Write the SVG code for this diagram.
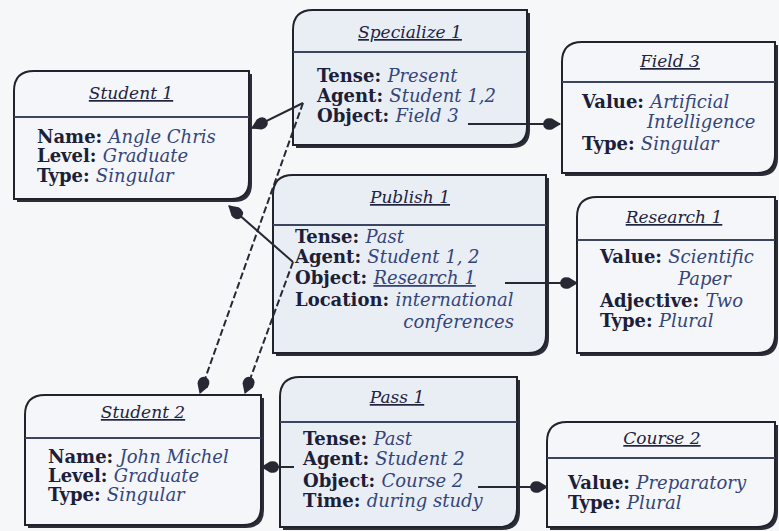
<svg xmlns="http://www.w3.org/2000/svg" width="779" height="531" viewBox="0 0 779 531">
  <style>
    .shadow { fill: #2b2d38; }
    .box { stroke: #20222c; stroke-width: 2; }
    .plain { fill: #f4f6f9; }
    .tint { fill: #e9eef5; }
    .rule { stroke: #3c4560; stroke-width: 2; }
    text { font-family: "DejaVu Serif", "Liberation Serif", serif; font-size: 18px; }
    .title { font-size: 17px; font-style: italic; fill: #1e2340; text-decoration: underline; text-anchor: middle; }
    .lbl { font-weight: bold; fill: #1b2038; }
    .val { font-style: italic; fill: #34457a; }
    .conn { stroke: #262834; stroke-width: 2; fill: none; }
    .dash { stroke-dasharray: 7 3; }
  </style>
  <defs>
    <marker id="head" viewBox="0 0 18 14" refX="17" refY="7" markerWidth="18" markerHeight="14" markerUnits="userSpaceOnUse" orient="auto">
      <path d="M0,7 Q1,0 9,1.5 L18,7 L9,12.5 Q1,14 0,7 Z" fill="#262834"/>
    </marker>
  </defs>

  <rect width="779" height="531" fill="#f6f7f9"/>

  <!-- Student 1 -->
  <g id="student1">
    <path class="shadow" d="M37,74 H252 V184 Q252,202 234,202 H17 V94 Q17,74 37,74 Z"/>
    <path class="box plain" d="M34,71 H249 V181 Q249,199 231,199 H14 V91 Q14,71 34,71 Z"/>
    <line class="rule" x1="14" y1="117" x2="249" y2="117"/>
    <text class="title" x="131" y="99">Student 1</text>
    <text x="37" y="143"><tspan class="lbl">Name: </tspan><tspan class="val">Angle Chris</tspan></text>
    <text x="37" y="162"><tspan class="lbl">Level: </tspan><tspan class="val">Graduate</tspan></text>
    <text x="37" y="182"><tspan class="lbl">Type: </tspan><tspan class="val">Singular</tspan></text>
  </g>

  <!-- Specialize 1 -->
  <g id="specialize1">
    <path class="shadow" d="M316,13 H530 V130 Q530,148 512,148 H296 V33 Q296,13 316,13 Z"/>
    <path class="box tint" d="M313,10 H527 V127 Q527,145 509,145 H293 V30 Q293,10 313,10 Z"/>
    <line class="rule" x1="293" y1="52" x2="527" y2="52"/>
    <text class="title" x="410" y="38">Specialize 1</text>
    <text x="317" y="82"><tspan class="lbl">Tense: </tspan><tspan class="val">Present</tspan></text>
    <text x="317" y="102"><tspan class="lbl">Agent: </tspan><tspan class="val">Student 1,2</tspan></text>
    <text x="317" y="122"><tspan class="lbl">Object: </tspan><tspan class="val">Field 3</tspan></text>
  </g>

  <!-- Field 3 -->
  <g id="field3">
    <path class="shadow" d="M585,45 H778 V158 Q778,176 760,176 H565 V65 Q565,45 585,45 Z"/>
    <path class="box plain" d="M582,42 H775 V155 Q775,173 757,173 H562 V62 Q562,42 582,42 Z"/>
    <line class="rule" x1="562" y1="82" x2="775" y2="82"/>
    <text class="title" x="670" y="67">Field 3</text>
    <text x="582" y="108"><tspan class="lbl">Value: </tspan><tspan class="val">Artificial</tspan></text>
    <text class="val" x="647" y="128">Intelligence</text>
    <text x="582" y="150"><tspan class="lbl">Type: </tspan><tspan class="val">Singular</tspan></text>
  </g>

  <!-- Publish 1 -->
  <g id="publish1">
    <path class="shadow" d="M296,178 H549 V338 Q549,356 531,356 H276 V198 Q276,178 296,178 Z"/>
    <path class="box tint" d="M293,175 H546 V335 Q546,353 528,353 H273 V195 Q273,175 293,175 Z"/>
    <line class="rule" x1="273" y1="225" x2="546" y2="225"/>
    <text class="title" x="410" y="203">Publish 1</text>
    <text x="295" y="243"><tspan class="lbl">Tense: </tspan><tspan class="val">Past</tspan></text>
    <text x="295" y="263"><tspan class="lbl">Agent: </tspan><tspan class="val">Student 1, 2</tspan></text>
    <text x="295" y="284"><tspan class="lbl">Object: </tspan><tspan class="val" text-decoration="underline">Research 1</tspan></text>
    <text x="295" y="306"><tspan class="lbl">Location: </tspan><tspan class="val">international</tspan></text>
    <text class="val" x="514" y="328" text-anchor="end">conferences</text>
  </g>

  <!-- Research 1 -->
  <g id="research1">
    <path class="shadow" d="M600,200 H778 V338 Q778,356 760,356 H580 V220 Q580,200 600,200 Z"/>
    <path class="box plain" d="M597,197 H775 V335 Q775,353 757,353 H577 V217 Q577,197 597,197 Z"/>
    <line class="rule" x1="577" y1="240" x2="775" y2="240"/>
    <text class="title" x="674" y="223">Research 1</text>
    <text x="600" y="263"><tspan class="lbl">Value: </tspan><tspan class="val">Scientific</tspan></text>
    <text class="val" x="678" y="285">Paper</text>
    <text x="600" y="307"><tspan class="lbl">Adjective: </tspan><tspan class="val">Two</tspan></text>
    <text x="600" y="327"><tspan class="lbl">Type: </tspan><tspan class="val">Plural</tspan></text>
  </g>

  <!-- Student 2 -->
  <g id="student2">
    <path class="shadow" d="M48,398 H264 V510 Q264,528 246,528 H28 V418 Q28,398 48,398 Z"/>
    <path class="box plain" d="M45,395 H261 V507 Q261,525 243,525 H25 V415 Q25,395 45,395 Z"/>
    <line class="rule" x1="25" y1="438" x2="261" y2="438"/>
    <text class="title" x="143" y="418">Student 2</text>
    <text x="48" y="463"><tspan class="lbl">Name: </tspan><tspan class="val">John Michel</tspan></text>
    <text x="48" y="482"><tspan class="lbl">Level: </tspan><tspan class="val">Graduate</tspan></text>
    <text x="48" y="501"><tspan class="lbl">Type: </tspan><tspan class="val">Singular</tspan></text>
  </g>

  <!-- Pass 1 -->
  <g id="pass1">
    <path class="shadow" d="M303,380 H520 V512 Q520,530 502,530 H283 V400 Q283,380 303,380 Z"/>
    <path class="box tint" d="M300,377 H517 V509 Q517,527 499,527 H280 V397 Q280,377 300,377 Z"/>
    <line class="rule" x1="280" y1="422" x2="517" y2="422"/>
    <text class="title" x="397" y="403">Pass 1</text>
    <text x="303" y="445"><tspan class="lbl">Tense: </tspan><tspan class="val">Past</tspan></text>
    <text x="303" y="465"><tspan class="lbl">Agent: </tspan><tspan class="val">Student 2</tspan></text>
    <text x="303" y="487"><tspan class="lbl">Object: </tspan><tspan class="val">Course 2</tspan></text>
    <text x="303" y="507"><tspan class="lbl">Time: </tspan><tspan class="val">during study</tspan></text>
  </g>

  <!-- Course 2 -->
  <g id="course2">
    <path class="shadow" d="M570,425 H778 V512 Q778,530 760,530 H550 V445 Q550,425 570,425 Z"/>
    <path class="box plain" d="M567,422 H775 V509 Q775,527 757,527 H547 V442 Q547,422 567,422 Z"/>
    <line class="rule" x1="547" y1="458" x2="775" y2="458"/>
    <text class="title" x="662" y="444">Course 2</text>
    <text x="568" y="489"><tspan class="lbl">Value: </tspan><tspan class="val">Preparatory</tspan></text>
    <text x="568" y="509"><tspan class="lbl">Type: </tspan><tspan class="val">Plural</tspan></text>
  </g>

  <!-- Connectors -->
  <g id="connectors">
    <line class="conn" x1="303" y1="103" x2="252" y2="128" marker-end="url(#head)"/>
    <line class="conn dash" x1="303" y1="103" x2="200" y2="393" marker-end="url(#head)"/>
    <line class="conn" x1="293" y1="262" x2="229" y2="206" marker-end="url(#head)"/>
    <line class="conn dash" x1="293" y1="262" x2="245" y2="393" marker-end="url(#head)"/>
    <line class="conn" x1="468" y1="124" x2="560" y2="124" marker-end="url(#head)"/>
    <line class="conn" x1="505" y1="283" x2="577" y2="283" marker-end="url(#head)"/>
    <line class="conn" x1="294" y1="467" x2="262" y2="467" marker-end="url(#head)"/>
    <line class="conn" x1="478" y1="487" x2="547" y2="487" marker-end="url(#head)"/>
  </g>
</svg>
